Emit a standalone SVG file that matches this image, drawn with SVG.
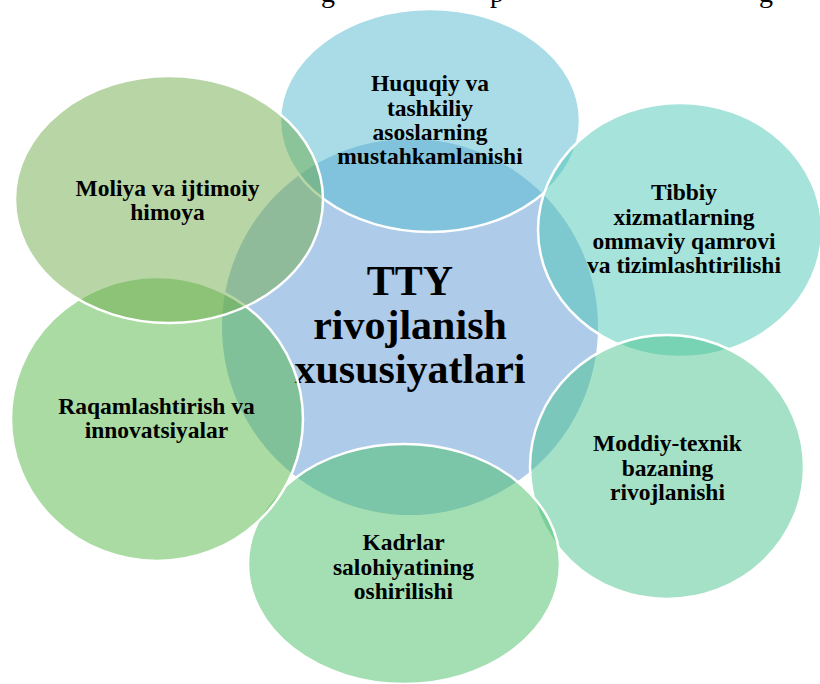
<svg xmlns="http://www.w3.org/2000/svg" width="820" height="684" viewBox="0 0 820 684">
  <style>
    .hub { fill: #AECBEA; }
    .petal { stroke: #FFFFFF; stroke-width: 2.5; }
    .hub-label { font-family: "Liberation Serif", "Times New Roman", serif; font-weight: bold; font-size: 42px; fill: #000000; text-anchor: middle; }
    .label { font-family: "Liberation Serif", "Times New Roman", serif; font-weight: bold; font-size: 23.5px; fill: #000000; text-anchor: middle; }
    .page-text { font-family: "Liberation Serif", "Times New Roman", serif; font-size: 28px; fill: #000000; }
  </style>

  <rect width="820" height="684" fill="#FFFFFF"/>

  <!-- descenders of the page line above the figure -->
  <g id="page-line">
    <text class="page-text" x="321" y="2">g</text>
    <text class="page-text" x="490" y="2">p</text>
    <text class="page-text" x="759" y="2">g</text>
  </g>

  <!-- central hub -->
  <g id="hub">
    <circle class="hub" cx="410" cy="327" r="188"/>
    <text class="hub-label" x="410" y="295">TTY</text>
    <text class="hub-label" x="410" y="339">rivojlanish</text>
    <text class="hub-label" x="410" y="383">xususiyatlari</text>
  </g>

  <!-- surrounding translucent nodes, clockwise from the top -->
  <g id="node-huquqiy">
    <ellipse class="petal" cx="430" cy="120.5" rx="150" ry="111.5" fill="rgb(83,185,205)" fill-opacity="0.5"/>
    <text class="label" x="430" y="91">Huquqiy va</text>
    <text class="label" x="430" y="115.5">tashkiliy</text>
    <text class="label" x="430" y="140">asoslarning</text>
    <text class="label" x="430" y="164">mustahkamlanishi</text>
  </g>

  <g id="node-tibbiy">
    <ellipse class="petal" cx="680" cy="230" rx="142" ry="127" fill="rgb(77,199,181)" fill-opacity="0.5"/>
    <text class="label" x="684" y="200">Tibbiy</text>
    <text class="label" x="684" y="225">xizmatlarning</text>
    <text class="label" x="684" y="249">ommaviy qamrovi</text>
    <text class="label" x="684" y="273">va tizimlashtirilishi</text>
  </g>

  <g id="node-moddiy">
    <ellipse class="petal" cx="667" cy="467" rx="137" ry="132" fill="rgb(73,195,141)" fill-opacity="0.5"/>
    <text class="label" x="667.5" y="451">Moddiy-texnik</text>
    <text class="label" x="667.5" y="476">bazaning</text>
    <text class="label" x="667.5" y="500">rivojlanishi</text>
  </g>

  <g id="node-kadrlar">
    <ellipse class="petal" cx="404" cy="564" rx="156" ry="120" fill="rgb(71,191,103)" fill-opacity="0.5"/>
    <text class="label" x="403.5" y="550">Kadrlar</text>
    <text class="label" x="403.5" y="575">salohiyatining</text>
    <text class="label" x="403.5" y="599">oshirilishi</text>
  </g>

  <g id="node-raqam">
    <ellipse class="petal" cx="157" cy="419" rx="146" ry="142" fill="rgb(83,183,71)" fill-opacity="0.5"/>
    <text class="label" x="156.5" y="414">Raqamlashtirish va</text>
    <text class="label" x="156.5" y="438">innovatsiyalar</text>
  </g>

  <g id="node-moliya">
    <ellipse class="petal" cx="169" cy="199.5" rx="154" ry="123.5" fill="rgb(111,171,75)" fill-opacity="0.5"/>
    <text class="label" x="167.5" y="196">Moliya va ijtimoiy</text>
    <text class="label" x="167.5" y="219.5">himoya</text>
  </g>
</svg>
